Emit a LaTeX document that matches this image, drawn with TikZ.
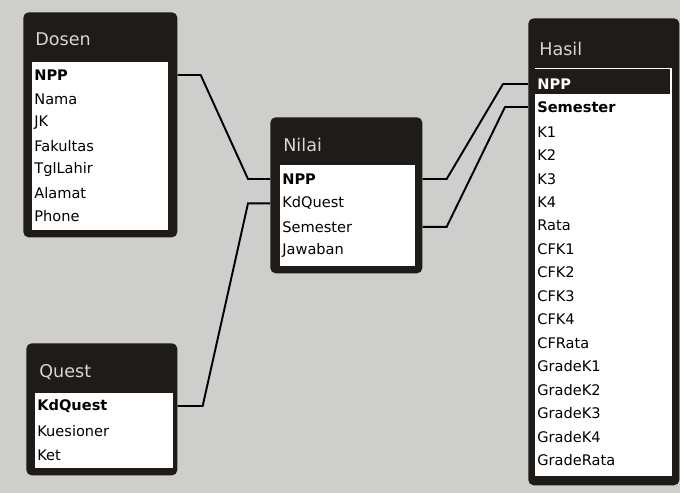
\documentclass[tikz,border=0pt]{standalone}
\usepackage{fontspec}
\setmainfont{DejaVu Sans}
\usetikzlibrary{calc}
\definecolor{paper}{RGB}{206,206,204}
\definecolor{frame}{RGB}{30,27,25}
\definecolor{titletext}{RGB}{214,214,214}

\begin{document}
\begin{tikzpicture}[x=0.02cm, y=-0.02cm,
    tablebox/.style={rectangle, rounded corners=3pt, fill=frame, anchor=north west, inner sep=0},
    listbox/.style={rectangle, fill=white, anchor=north west, inner sep=0},
    selrow/.style={rectangle, fill=frame, anchor=north west, inner sep=0},
    tabletitle/.style={anchor=west, inner sep=0, text=titletext, font=\fontsize{10}{12}\selectfont},
    field/.style={anchor=west, inner sep=0, text=black, font=\fontsize{8.3}{10}\selectfont},
    keyfield/.style={field, font=\fontsize{8.3}{10}\selectfont\bfseries},
    link/.style={draw=black, line width=1.1pt}
]

% Paper
\fill[paper] (0,0) rectangle (680,493);
\useasboundingbox (0,0) rectangle (680,493);

% Dosen
\node[tablebox, minimum width=3.08cm, minimum height=4.5cm] (dosen) at (23,12) {};
\node[listbox, minimum width=2.72cm, minimum height=3.36cm] (dosen-list) at (32,62) {};
\node[tabletitle] (dosen-title) at (35,39) {Dosen};
\node[keyfield] (dosen-NPP) at (34,75) {NPP};
\foreach \f [count=\i] in {Nama,JK,Fakultas,TglLahir,Alamat,Phone}
    \node[field] (dosen-\f) at (34,76+23.4*\i) {\f};

% Nilai
\node[tablebox, minimum width=3.04cm, minimum height=3.12cm] (nilai) at (270,117) {};
\node[listbox, minimum width=2.7cm, minimum height=2.02cm] (nilai-list) at (280,165) {};
\node[tabletitle] (nilai-title) at (283,145) {Nilai};
\node[keyfield] (nilai-NPP) at (282,179) {NPP};
\foreach \f [count=\i] in {KdQuest,Semester,Jawaban}
    \node[field] (nilai-\f) at (282,180+23.4*\i) {\f};

% Quest
\node[tablebox, minimum width=3.02cm, minimum height=2.64cm] (quest) at (26,343) {};
\node[listbox, minimum width=2.76cm, minimum height=1.5cm] (quest-list) at (35,393) {};
\node[tabletitle] (quest-title) at (39,372) {Quest};
\node[keyfield] (quest-KdQuest) at (37,406) {KdQuest};
\foreach \f [count=\i] in {Kuesioner,Ket}
    \node[field] (quest-\f) at (37,408+23.4*\i) {\f};

% Hasil
\node[tablebox, minimum width=3.02cm, minimum height=9.34cm] (hasil) at (528,18) {};
\node[listbox, minimum width=2.74cm, minimum height=8.16cm] (hasil-list) at (535,68) {};
\node[selrow, minimum width=2.7cm, minimum height=0.5cm] (hasil-sel) at (535,69) {};
\node[tabletitle] (hasil-title) at (539,49) {Hasil};
\node[keyfield, text=white] (hasil-NPP) at (537,84) {NPP};
\node[keyfield] (hasil-Semester) at (537,107) {Semester};
\foreach \f [count=\i from 2] in {K1,K2,K3,K4,Rata,CFK1,CFK2,CFK3,CFK4,CFRata,GradeK1,GradeK2,GradeK3,GradeK4,GradeRata}
    \node[field] (hasil-\f) at (537,85+23.44*\i) {\f};

% Links
\draw[link] (dosen-NPP -| dosen.east) -- ++(23,0) -- ($(nilai-NPP -| nilai.west)+(-22,0)$) -- (nilai-NPP -| nilai.west);
\draw[link] (quest-KdQuest -| quest.east) -- ++(25,0) -- ($(nilai-KdQuest -| nilai.west)+(-22,0)$) -- (nilai-KdQuest -| nilai.west);
\draw[link] (nilai-NPP -| nilai.east) -- ++(24,0) -- ($(hasil-NPP -| hasil.west)+(-25,0)$) -- (hasil-NPP -| hasil.west);
\draw[link] (nilai-Semester -| nilai.east) -- ++(24,0) -- ($(hasil-Semester -| hasil.west)+(-23,0)$) -- (hasil-Semester -| hasil.west);

\end{tikzpicture}
\end{document}
